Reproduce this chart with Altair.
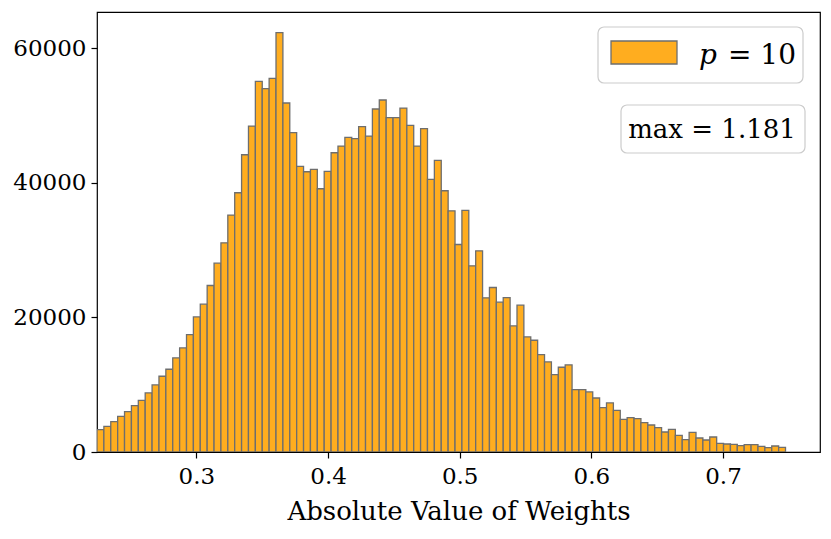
import altair as alt
import pandas as pd

# Histogram counts (100 bins)
counts = [
    3322, 3818, 4513, 5306, 6000, 6893, 7686, 8777, 9968, 11257,
    12298, 13984, 15472, 17456, 20084, 21968, 24745, 28068, 31093, 35209,
    38531, 44185, 48450, 55095, 54004, 55541, 62335, 51871, 47458, 42449,
    41656, 42003, 39127, 41705, 44482, 45474, 46763, 46565, 48350, 46962,
    50979, 52317, 49689, 49689, 51127, 48549, 45474, 48053, 40515, 43342,
    38829, 35854, 30845, 35903, 27671, 29903, 22911, 24448, 22266, 22960,
    18745, 21820, 17109, 16613, 14480, 13389, 11505, 12596, 12943, 9270,
    9270, 8923, 8030, 6593, 7287, 6196, 4858, 5106, 4957, 4362,
    4015, 3619, 2974, 3371, 2479, 1834, 2925, 2082, 1785, 2231,
    1289, 1190, 1140, 942, 1091, 1091, 843, 644, 892, 694,
]
bin_start = 0.2245
bin_width = 0.00523
x_domain = [0.2245, 0.7737]
y_domain = [0, 65400]
x_ticks = [0.3, 0.4, 0.5, 0.6, 0.7]
y_ticks = [0, 20000, 40000, 60000]
x_title = "Absolute Value of Weights"
legend_var = "p"
legend_rest = "= 10"
max_text = "max = 1.181"

FONT = "DejaVu Serif"
FILL = "#FFAD1F"
EDGE = "#6e6e6e"
W, H = 723, 440

edges = [bin_start + i * bin_width for i in range(len(counts))]
df = pd.DataFrame({
    "x0": edges,
    "x1": [e + bin_width for e in edges],
    "count": counts,
})

bars = alt.Chart(df).mark_rect(fill=FILL, stroke=EDGE, strokeWidth=1.3, clip=True).encode(
    x=alt.X("x0:Q",
            scale=alt.Scale(domain=x_domain, nice=False, zero=False),
            axis=alt.Axis(values=x_ticks, format=".1f", title=x_title,
                          grid=False, domain=False, tickSize=6, tickColor="black",
                          tickWidth=1.2, labelPadding=7, labelFontSize=23,
                          labelFont=FONT, labelColor="black", titleFont=FONT,
                          titleFontSize=26, titleFontWeight="normal",
                          titleColor="black", titlePadding=10)),
    x2="x1:Q",
    y=alt.Y("count:Q",
            scale=alt.Scale(domain=y_domain, nice=False),
            axis=alt.Axis(values=y_ticks, format="d", title=None, grid=False,
                          domain=False, tickSize=6, tickColor="black",
                          tickWidth=1.2, labelPadding=5, labelFontSize=23,
                          labelFont=FONT, labelColor="black")),
    y2=alt.datum(0),
)

one = alt.Data(values=[{"a": 1}])

legend_box = alt.Chart(one).mark_rect(
    fill="white", stroke="#cccccc", strokeWidth=1.2, cornerRadius=6
).encode(x=alt.value(501), x2=alt.value(706), y=alt.value(15), y2=alt.value(71))

swatch = alt.Chart(one).mark_rect(fill=FILL, stroke=EDGE, strokeWidth=1.3).encode(
    x=alt.value(514), x2=alt.value(580), y=alt.value(29), y2=alt.value(52))

leg_var = alt.Chart(one).mark_text(
    text=legend_var, font=FONT, fontSize=28, fontStyle="italic",
    align="center", baseline="alphabetic", color="black"
).encode(x=alt.value(611), y=alt.value(52))

leg_rest = alt.Chart(one).mark_text(
    text=legend_rest, font=FONT, fontSize=28, align="left",
    baseline="alphabetic", color="black"
).encode(x=alt.value(631), y=alt.value(52))

max_box = alt.Chart(one).mark_rect(
    fill="white", stroke="#cccccc", strokeWidth=1.2, cornerRadius=6
).encode(x=alt.value(524), x2=alt.value(708), y=alt.value(93), y2=alt.value(141))

max_lbl = alt.Chart(one).mark_text(
    text=max_text, font=FONT, fontSize=26, align="center",
    baseline="alphabetic", color="black"
).encode(x=alt.value(615), y=alt.value(126))

chart = alt.layer(
    bars, legend_box, swatch, leg_var, leg_rest, max_box, max_lbl
).properties(
    width=W, height=H,
    autosize=alt.AutoSizeParams(type="none"),
    padding={"left": 89, "top": 4, "right": 3, "bottom": 80},
).configure(background="white").configure_view(stroke="black", strokeWidth=1.2)

chart.save("out.html", embed_options={"renderer": "svg", "actions": False})
